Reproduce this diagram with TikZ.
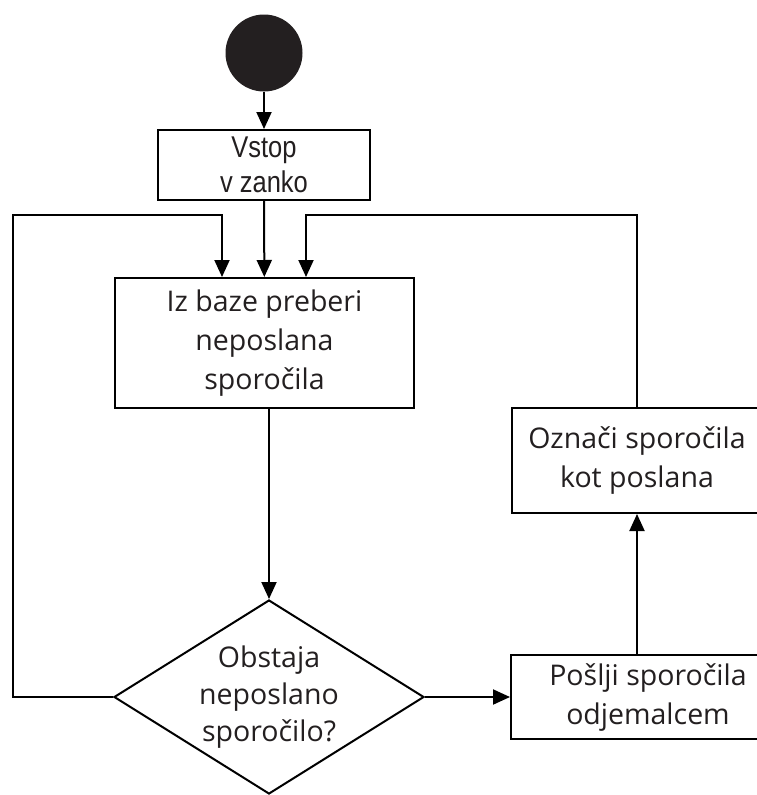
\documentclass[tikz,border=0pt]{standalone}
\usepackage{fontspec}
\setmainfont{Open Sans}
\newfontfamily\vfont{Liberation Sans}
\usetikzlibrary{shapes.geometric,arrows.meta}
\definecolor{ink}{RGB}{35,31,32}
\tikzset{
  box/.style={draw=black,line width=2pt,rectangle,inner sep=0pt,align=center,text=ink,
    font=\fontsize{28.5}{39}\selectfont},
  arr/.style={draw=black,line width=2pt,-{Triangle[length=17pt,width=15pt]}},
}
\newcommand{\narrowtxt}[1]{\scalebox{0.85}[1]{#1}}
\begin{document}
\begin{tikzpicture}[x=1pt,y=-1pt]
\useasboundingbox (0,0) rectangle (757,795);
\clip (0,0) rectangle (757,795);
\fill[white] (0,0) rectangle (757,795);
\node[circle,fill=ink,minimum size=77pt,inner sep=0pt] (start) at (264,53) {};
\node[box,minimum width=212pt,minimum height=70pt,font=\vfont\fontsize{30}{35}\selectfont] (vstop) at (264,165) {\narrowtxt{Vstop}\\\narrowtxt{v zanko}};
\node[box,minimum width=299pt,minimum height=130pt] (read) at (264.5,343) {Iz baze preberi\\neposlana\\sporočila};
\node[diamond,draw=black,line width=2pt,minimum width=310pt,minimum height=194pt,inner sep=0pt,
  label={[align=center,text=ink,font=\fontsize{28.5}{37}\selectfont]center:Obstaja\\neposlano\\sporočilo?}] (dec) at (269,697) {};
\node[box,minimum width=274pt,minimum height=84pt] (send) at (648,697) {Pošlji sporočila\\odjemalcem};
\node[box,minimum width=250pt,minimum height=105pt] (mark) at (637,460.5) {Označi sporočila\\kot poslana};
\coordinate (lc) at (13,215);
\coordinate (rc) at (637,215);
\draw[arr] (start) -- (vstop);
\draw[arr] (vstop) -- (read);
\draw[arr] (read.south -| dec.north) -- (dec.north);
\draw[arr] (dec.west) -| (lc) -| ([xshift=-42.5pt]read.north);
\draw[arr] (dec.east) -- (send.west);
\draw[arr] (send.north -| mark.south) -- (mark.south);
\draw[arr] (mark.north) -- (rc) -| ([xshift=41.5pt]read.north);
\end{tikzpicture}
\end{document}
